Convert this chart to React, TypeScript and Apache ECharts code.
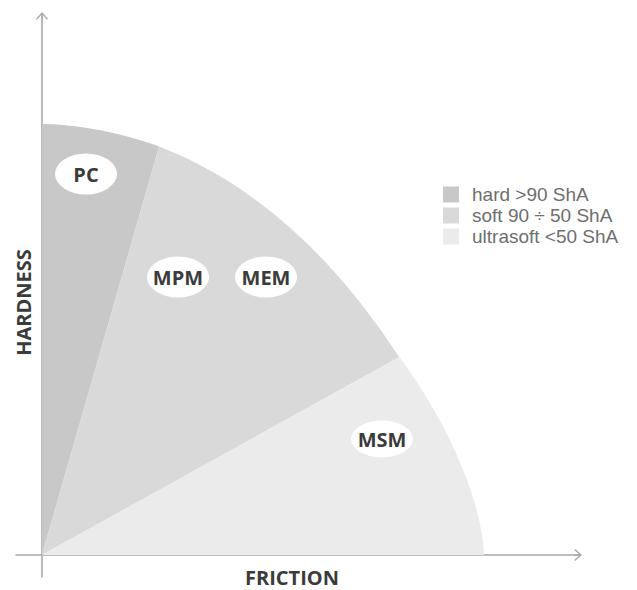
import { useEffect, useRef } from 'react';
import * as echarts from 'echarts';

// ---- data ----
const categories = ['hard >90 ShA', 'soft 90 ÷ 50 ShA', 'ultrasoft <50 ShA'];
const sectorStartDeg = [74, 29, 0];
const sectorEndDeg = [90, 74, 29];
const bubbleNames = ['PC', 'MPM', 'MEM', 'MSM'];
const bubbleFriction = [44, 136, 224, 340];
const bubbleHardness = [381, 278, 278, 116];
const axisNames = ['FRICTION', 'HARDNESS'];

// ---- styles ----
const sectorColors = ['#c8c8c8', '#d9d9d9', '#ebebeb'];
const AXIS_COLOR = '#a9a9a9';
const TEXT_DARK = '#3b3b3b';
const RX = 442;
const RY = 431;
const ARROW = 'path://M6,0L12,6.8L11,7.8L6,2.1L1,7.8L0,6.8ZM5.25,1L6.75,1L6.75,8L5.25,8Z';
const ELLIPSE = 'path://M0,20A31,20,0,1,1,62,20A31,20,0,1,1,0,20Z';

function edge(theta: number): number[] {
  const deg = (theta * 180) / Math.PI;
  const f = Math.min(1, Math.max(0, (deg - 30) / 45));
  const exp = 1.6 + 0.2 * f;
  const c = Math.cos(theta);
  const s = Math.sin(theta);
  const r = 1 / Math.pow(Math.pow(Math.abs(c) / RX, exp) + Math.pow(Math.abs(s) / RY, exp), 1 / exp);
  return [r * c, r * s];
}

export default function App() {
  const ref = useRef<HTMLDivElement>(null);
  useEffect(() => {
    if (!ref.current) return;
    const chart = echarts.init(ref.current, null, { renderer: 'svg' });
    const sectorSeries = categories.map((name, i) => ({
      type: 'custom',
      name,
      silent: true,
      itemStyle: { color: sectorColors[i] },
      data: [[sectorStartDeg[i], sectorEndDeg[i]]],
      renderItem: (params: any, api: any) => {
        const a0 = (api.value(0) * Math.PI) / 180;
        const a1 = (api.value(1) * Math.PI) / 180;
        const pts = [api.coord([0, 0])];
        const N = 80;
        for (let k = 0; k <= N; k++) {
          const t = a0 + ((a1 - a0) * k) / N;
          pts.push(api.coord(edge(t)));
        }
        return { type: 'polygon', shape: { points: pts }, style: { fill: api.visual('color') } };
      },
      z: 1,
    }));
    const bubbleData = bubbleNames.map((n, i) => ({
      name: n,
      value: [bubbleFriction[i], bubbleHardness[i]],
      symbolSize: n === 'MSM' ? [62, 37] : [62, 41],
    }));
    chart.setOption({
      animation: false,
      grid: { left: 16, right: 59, top: 16, bottom: 13, outerBoundsMode: 'none', containLabel: false },
      xAxis: {
        type: 'value',
        min: -26,
        max: 536,
        name: axisNames[0],
        nameLocation: 'middle',
        nameGap: -10,
        nameTextStyle: {
          fontFamily: 'Open Sans',
          fontWeight: 'bold',
          fontSize: 20,
          color: TEXT_DARK,
          padding: [0, 10, 0, 0],
        },
        axisLine: {
          show: true,
          onZero: true,
          symbol: ['none', ARROW],
          symbolSize: [12, 8],
          lineStyle: { color: AXIS_COLOR, width: 1.6 },
        },
        axisTick: { show: false },
        axisLabel: { show: false },
        splitLine: { show: false },
      },
      yAxis: {
        type: 'value',
        min: -22,
        max: 539,
        name: axisNames[1],
        nameLocation: 'middle',
        nameGap: -17,
        nameTextStyle: {
          fontFamily: 'Open Sans',
          fontWeight: 'bold',
          fontSize: 20,
          color: TEXT_DARK,
          padding: [0, 12, 0, 0],
        },
        axisLine: {
          show: true,
          onZero: true,
          symbol: ['none', ARROW],
          symbolSize: [12, 8],
          lineStyle: { color: AXIS_COLOR, width: 1.6 },
        },
        axisTick: { show: false },
        axisLabel: { show: false },
        splitLine: { show: false },
      },
      legend: {
        data: categories,
        orient: 'vertical',
        left: 443,
        top: 185,
        padding: 0,
        itemWidth: 16,
        itemHeight: 16,
        itemGap: 2,
        icon: 'rect',
        selectedMode: false,
        textStyle: {
          fontFamily: 'Liberation Sans',
          fontSize: 19,
          color: '#6e6e6e',
          padding: [0, 0, 0, 8],
        },
      },
      series: [
        ...sectorSeries,
        {
          type: 'scatter',
          name: 'labels',
          silent: true,
          symbol: ELLIPSE,
          symbolKeepAspect: false,
          itemStyle: { color: '#ffffff', opacity: 1 },
          label: {
            show: true,
            position: 'inside',
            formatter: '{b}',
            fontFamily: 'Open Sans',
            fontWeight: 'bold',
            fontSize: 20,
            color: TEXT_DARK,
          },
          data: bubbleData,
          z: 5,
        },
      ],
    });
    return () => chart.dispose();
  }, []);
  return <div ref={ref} style={{ position: 'absolute', left: 0, top: 0, width: 637, height: 590 }} />;
}
